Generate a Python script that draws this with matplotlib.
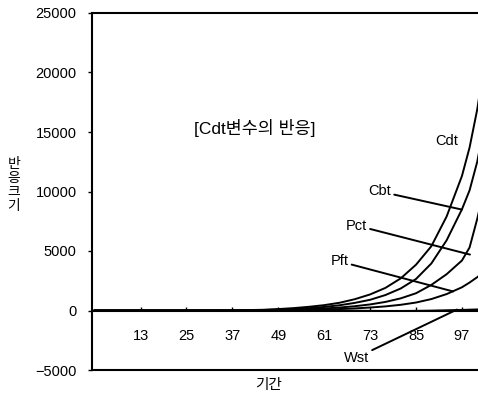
import matplotlib
matplotlib.use('Agg')
import matplotlib.pyplot as plt

plt.rcParams['font.family'] = ['Liberation Sans', 'Noto Sans CJK KR']

periods = [1, 13, 25, 37, 45, 49, 53, 57, 61, 65, 69, 73, 77, 81, 85, 89, 93, 97, 99, 101, 102]
cdt = [0, 0, 0, 10, 60, 120, 200, 310, 450, 650, 950, 1350, 1900, 2700, 3850, 5400, 7900, 11300, 13700, 16900, 19000]
cbt = [0, 0, 0, 5, 40, 75, 125, 200, 300, 440, 640, 900, 1300, 1850, 2650, 3950, 5900, 8500, 10100, 12500, 14200]
pct = [0, 0, 0, 0, 20, 40, 70, 110, 170, 250, 360, 510, 720, 1020, 1450, 2150, 3050, 4200, 5300, 7700, 9100]
pft = [0, 0, 0, 0, 10, 20, 35, 55, 80, 120, 175, 250, 345, 480, 670, 960, 1380, 1950, 2350, 2800, 3050]
wst = [0, 0, 0, 0, 0, 0, 0, 0, 0, -10, -20, -30, -40, -40, -30, -10, 20, 50, 70, 90, 100]

xticks = [13, 25, 37, 49, 61, 73, 85, 97]
yticks = [-5000, 0, 5000, 10000, 15000, 20000, 25000]

fig = plt.figure(figsize=(4.78, 3.97), dpi=100)
ax = fig.add_axes([92 / 478, 1 - 370 / 397, 1 - 92 / 478, 357 / 397])

for series in [cdt, cbt, pct, pft, wst]:
    ax.plot(periods, series, color='black', lw=1.4)

ax.set_xlim(0.3, 101.2)
ax.set_ylim(-5000, 25000)
ax.set_yticks(yticks)
ax.tick_params(axis='y', direction='out', length=3, width=1, pad=8, labelsize=10.5)
ax.tick_params(axis='x', bottom=False, labelbottom=False)
for side in ['left', 'top', 'bottom']:
    ax.spines[side].set_linewidth(1.5)
ax.spines['right'].set_visible(False)

# category axis crossing at zero
zero_axis = ax.secondary_xaxis(5000 / 30000)
zero_axis.set_xticks(xticks)
zero_axis.tick_params(direction='in', length=3, width=1, pad=13, labelsize=10.5)
zero_axis.spines['bottom'].set_linewidth(1.5)

ax.text(42.8, 15370, '[Cdt변수의 반응]', fontsize=12.5, ha='center', va='center')

ax.text(93.1, 14280, 'Cdt', fontsize=10.5, ha='center', va='center')
ax.annotate('Cbt', xy=(97.0, 8480), xytext=(75.6, 10000), fontsize=10.5,
            ha='center', va='center',
            arrowprops=dict(arrowstyle='-', lw=1.4, color='black', shrinkA=0, shrinkB=0))
ax.annotate('Pct', xy=(99.1, 4700), xytext=(69.5, 7140), fontsize=10.5,
            ha='center', va='center',
            arrowprops=dict(arrowstyle='-', lw=1.4, color='black', shrinkA=0, shrinkB=0))
ax.annotate('Pft', xy=(94.7, 1600), xytext=(65.1, 4120), fontsize=10.5,
            ha='center', va='center',
            arrowprops=dict(arrowstyle='-', lw=1.4, color='black', shrinkA=0, shrinkB=0))
ax.annotate('Wst', xy=(95.7, 80), xytext=(69.5, -3950), fontsize=10.5,
            ha='center', va='center',
            arrowprops=dict(arrowstyle='-', lw=1.4, color='black', shrinkA=0, shrinkB=0))

fig.text(268 / 478, 1 - 385 / 397, '기간', fontsize=10.5, ha='center', va='center')
fig.text(14 / 478, 1 - 185 / 397, '반\n응\n크\n기', fontsize=10, ha='center', va='center',
         linespacing=1.0)

fig.savefig('out.png', dpi=100)
